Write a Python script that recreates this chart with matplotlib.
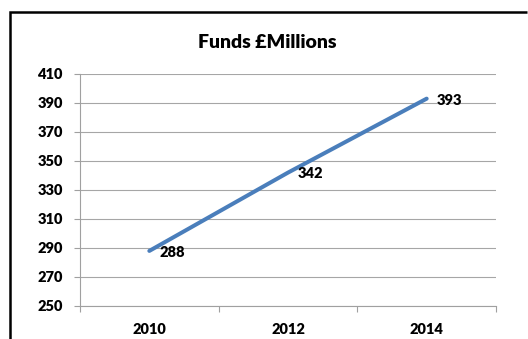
import matplotlib
matplotlib.use("Agg")
import matplotlib.pyplot as plt

years = ["2010", "2012", "2014"]
funds = [288, 342, 393]
y_ticks = [250, 270, 290, 310, 330, 350, 370, 390, 410]

plt.rcParams['font.family'] = ['Lato', 'DejaVu Sans']

W, H = 528, 339
fig = plt.figure(figsize=(W / 100, H / 100), dpi=100)
fig.patch.set_facecolor('white')

# background axes in pixel units for the chart border (left and top edges only)
bg = fig.add_axes([0, 0, 1, 1])
bg.set_xlim(0, W)
bg.set_ylim(H, 0)
bg.axis('off')
bg.plot([10, 10, W - 1], [H, 12, 12], color='black', linewidth=1.8,
        solid_capstyle='butt', solid_joinstyle='miter')

ax = fig.add_axes([80 / W, 1 - 306 / H, (496 - 80) / W, (306 - 74) / H])

x = list(range(len(years)))
ax.plot(x, funds, color='#4a7ebb', linewidth=2.9, solid_capstyle='round', zorder=3)
for xi, v in zip(x, funds):
    ax.annotate(str(v), (xi, v), xytext=(7, -1), textcoords='offset points',
                ha='left', va='center', fontsize=10.5, fontweight='heavy')

ax.set_xlim(-0.5, len(years) - 0.5)
ax.set_ylim(250, 410)
ax.set_yticks(y_ticks)
ax.set_yticklabels([str(t) for t in y_ticks], fontsize=10.5, fontweight='heavy')
ax.set_xticks(x)
ax.set_xticklabels(years, fontsize=10.5, fontweight='heavy')
ax.set_xticks([i - 0.5 for i in range(len(years) + 1)], minor=True)

ax.tick_params(axis='x', which='major', length=0, pad=12)
ax.tick_params(axis='x', which='minor', length=4.5, color='#a0a0a0', width=0.8, direction='out')
ax.tick_params(axis='y', length=4.5, color='#a0a0a0', width=0.8, pad=8)

ax.grid(axis='y', color='#a6a6a6', linewidth=0.8)
ax.set_axisbelow(True)
ax.patch.set_alpha(0)
for s in ['top', 'right']:
    ax.spines[s].set_visible(False)
for s in ['left', 'bottom']:
    ax.spines[s].set_color('#a0a0a0')
    ax.spines[s].set_linewidth(0.8)

fig.text(267 / W, 1 - 43 / H, "Funds £Millions", ha='center', va='center',
         fontsize=14, fontweight='heavy')

fig.savefig("out.png", dpi=100)
